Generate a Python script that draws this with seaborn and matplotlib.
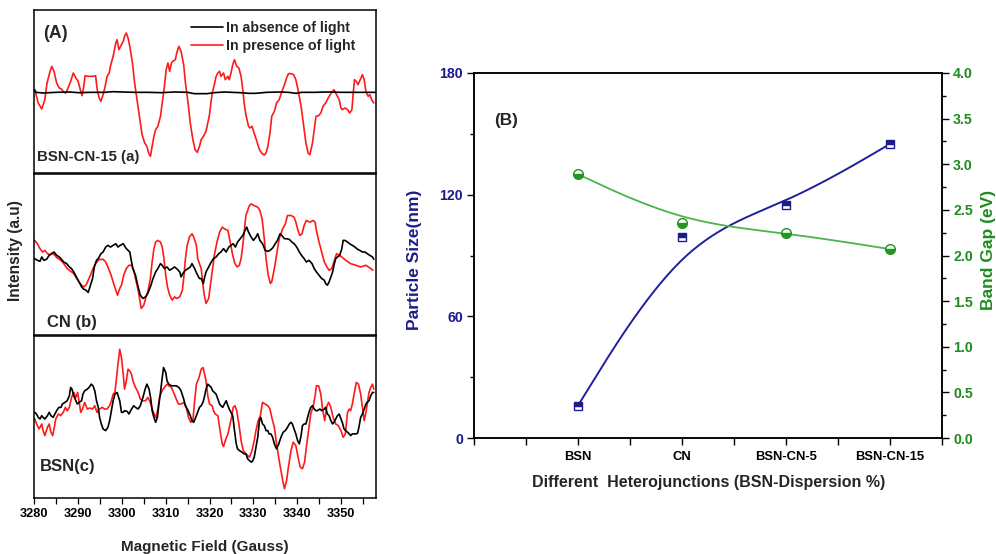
import numpy as np
import matplotlib
matplotlib.use("Agg")
import matplotlib.pyplot as plt
from matplotlib.lines import Line2D
from matplotlib.ticker import MultipleLocator, FormatStrFormatter
import seaborn as sns

# ---------------- Panel (A): EPR spectra ----------------
# (a) BSN-CN-15
a_light_field = [
    3280.1, 3280.9, 3281.7, 3282.4, 3282.9, 3283.6, 3284.0, 3284.5, 3285.1, 3285.7,
    3286.2, 3286.7, 3287.2, 3287.7, 3288.3, 3288.9, 3289.5, 3290.0, 3290.5, 3290.9,
    3291.3, 3291.6, 3292.1, 3292.7, 3293.4, 3294.0, 3294.3, 3294.8, 3295.2, 3295.7,
    3296.1, 3296.6, 3297.1, 3297.4, 3298.0, 3298.6, 3298.9, 3299.3, 3299.7, 3300.3,
    3300.6, 3301.0, 3301.4, 3301.8, 3302.4, 3302.9, 3303.4, 3304.0, 3304.6, 3305.2,
    3305.7, 3306.1, 3306.5, 3306.9, 3307.3, 3307.7, 3308.2, 3308.8, 3309.2, 3309.7,
    3310.1, 3310.5, 3310.9, 3311.3, 3311.6, 3312.2, 3312.5, 3313.0, 3313.5, 3314.1,
    3314.5, 3315.1, 3315.6, 3316.2, 3316.7, 3317.2, 3317.7, 3318.1, 3318.6, 3319.2,
    3320.0, 3320.4, 3320.7, 3321.1, 3321.5, 3321.9, 3322.3, 3322.6, 3323.2, 3323.6,
    3324.2, 3324.5, 3324.9, 3325.3, 3325.7, 3326.2, 3326.7, 3327.2, 3327.6, 3327.9,
    3328.3, 3328.9, 3329.2, 3329.7, 3330.2, 3330.8, 3331.4, 3332.0, 3332.5, 3332.9,
    3333.3, 3333.8, 3334.2, 3334.8, 3335.3, 3335.9, 3336.4, 3337.1, 3337.6, 3338.0,
    3338.6, 3339.2, 3339.7, 3340.2, 3340.9, 3341.4, 3342.0, 3342.5, 3342.9, 3343.5,
    3343.9, 3344.3, 3344.9, 3345.4, 3345.9, 3346.5, 3347.3, 3347.9, 3348.4, 3349.0,
    3349.6, 3350.0, 3350.3, 3350.9, 3351.5, 3352.0, 3352.5, 3352.8, 3353.1, 3353.5,
    3353.9, 3354.4, 3354.9, 3355.3, 3355.7, 3356.2, 3356.6, 3357.0, 3357.5]
a_light_int = [
    8, -32, -50, -22, 28, 63, 78, 63, 28, 13,
    10, 0, -2, 13, 33, 58, 43, 33, 8, -10,
    18, 50, 48, 48, 48, 50, 13, -17, -27, -7,
    13, 48, 58, 80, 108, 148, 158, 128, 138, 153,
    168, 178, 163, 138, 88, 28, -17, -72, -127, -152,
    -162, -182, -192, -162, -132, -112, -102, -72, -32, 18,
    68, 88, 63, 88, 93, 98, 118, 138, 123, 83,
    28, -32, -92, -142, -172, -180, -162, -142, -132, -117,
    -67, -22, 3, 23, 48, 58, 63, 48, 58, 38,
    48, 38, 58, 83, 98, 78, 73, 48, 8, -32,
    -67, -102, -107, -102, -122, -147, -172, -184, -188, -182,
    -162, -122, -72, -57, -32, -22, -2, 23, 43, 56,
    56, 53, 38, 8, -42, -92, -152, -182, -187, -152,
    -112, -72, -70, -62, -42, -32, -12, 0, 8, -7,
    -22, -47, -52, -47, -52, -62, -52, -2, 38, 33,
    23, 38, 53, 38, 3, -12, -7, -22, -32]
a_dark_field = [
    3280.0, 3280.4, 3282.0, 3285.0, 3288.0, 3290.0, 3293.0, 3296.0, 3298.0, 3300.0,
    3303.0, 3306.0, 3309.0, 3312.0, 3315.0, 3316.5, 3318.0, 3319.5, 3321.0, 3323.5,
    3325.0, 3327.0, 3329.0, 3330.5, 3333.0, 3336.0, 3338.0, 3339.8, 3341.0, 3344.0,
    3347.0, 3350.0, 3353.0, 3356.0, 3358.0]
a_dark_int = [
    8, 0, -2, 0, 1, -1, 0, 0, 2, 1,
    0, 0, -1, 1, 0, -4, -4, -4, -1, 1,
    0, -1, -3, -3, 0, 1, 0, -3, 0, 0,
    1, 0, 0, 0, 0]

# (b) CN
b_light_field = [
    3280.1, 3280.7, 3281.3, 3281.9, 3282.4, 3283.0, 3283.6, 3284.2, 3284.7, 3285.2,
    3285.8, 3286.4, 3287.0, 3287.5, 3288.0, 3288.5, 3289.0, 3289.6, 3290.2, 3290.8,
    3291.3, 3291.8, 3292.3, 3292.8, 3293.4, 3294.0, 3294.6, 3295.1, 3295.7, 3296.3,
    3296.8, 3297.4, 3298.0, 3298.6, 3299.0, 3299.5, 3299.9, 3300.4, 3301.0, 3301.6,
    3302.2, 3302.7, 3303.1, 3303.7, 3304.1, 3304.4, 3305.0, 3305.4, 3305.9, 3306.5,
    3306.9, 3307.3, 3307.7, 3308.2, 3308.8, 3309.2, 3309.6, 3310.0, 3310.4, 3310.9,
    3311.5, 3312.0, 3312.5, 3313.2, 3313.8, 3314.1, 3314.5, 3314.9, 3315.4, 3316.0,
    3316.4, 3317.0, 3317.3, 3318.1, 3318.5, 3318.8, 3319.2, 3319.8, 3320.1, 3320.6,
    3321.1, 3321.7, 3322.3, 3322.9, 3323.4, 3324.2, 3324.5, 3324.9, 3325.3, 3325.8,
    3326.3, 3326.8, 3327.2, 3327.6, 3328.0, 3328.3, 3329.1, 3329.5, 3330.2, 3331.0,
    3331.5, 3332.0, 3332.5, 3332.9, 3333.4, 3333.9, 3334.2, 3334.8, 3335.3, 3335.9,
    3336.7, 3337.3, 3337.8, 3338.6, 3339.3, 3339.7, 3340.2, 3340.6, 3341.1, 3341.6,
    3342.1, 3342.9, 3343.7, 3344.1, 3344.4, 3345.0, 3345.6, 3346.2, 3346.8, 3347.3,
    3347.9, 3348.4, 3349.0, 3349.6, 3350.2, 3351.1, 3352.2, 3353.4, 3354.5, 3355.7,
    3356.8, 3357.3]
b_light_int = [
    65, 55, 40, 30, 35, 25, 22, 25, 20, 12,
    8, 0, -10, -20, -25, -30, -35, -48, -60, -70,
    -75, -70, -55, -40, -20, -5, 5, 8, 8, 0,
    -15, -35, -60, -85, -100, -80, -70, -40, -20, -10,
    -10, -25, -50, -85, -115, -140, -130, -110, -90, -50,
    0, 40, 60, 65, 60, 45, 10, -40, -75, -100,
    -115, -105, -110, -105, -85, -50, 10, 50, 75, 85,
    75, 50, 10, -20, -70, -100, -125, -110, -80, -30,
    20, 60, 90, 105, 100, 95, 75, 50, 20, -5,
    -15, -10, 10, 50, 100, 140, 170, 175, 170, 165,
    155, 130, 70, 10, -40, -65, -60, -20, 20, 70,
    100, 115, 140, 140, 135, 120, 95, 80, 85, 110,
    125, 120, 125, 120, 95, 60, 30, 0, -15, -25,
    -20, 0, 25, 20, 15, 5, -5, -10, -15, -10,
    -20, -25]
b_dark_field = [
    3280.1, 3280.7, 3281.3, 3281.7, 3282.2, 3282.8, 3283.4, 3283.9, 3284.5, 3285.1,
    3285.7, 3286.2, 3286.7, 3287.4, 3288.0, 3288.5, 3289.0, 3289.6, 3290.2, 3290.8,
    3291.3, 3291.8, 3292.3, 3292.7, 3293.3, 3293.7, 3294.2, 3294.7, 3295.2, 3295.7,
    3296.3, 3296.8, 3297.4, 3298.0, 3298.6, 3299.1, 3299.6, 3300.3, 3300.9, 3301.4,
    3301.8, 3302.2, 3302.5, 3303.1, 3303.7, 3304.2, 3304.8, 3305.4, 3305.9, 3306.5,
    3307.1, 3307.7, 3308.2, 3308.8, 3309.2, 3309.7, 3310.3, 3310.9, 3311.5, 3312.0,
    3312.5, 3313.2, 3313.5, 3313.9, 3314.5, 3315.1, 3315.6, 3316.0, 3316.6, 3317.1,
    3317.7, 3318.1, 3318.6, 3318.8, 3319.2, 3319.8, 3320.4, 3320.9, 3321.5, 3322.1,
    3322.6, 3323.2, 3323.8, 3324.4, 3324.9, 3325.4, 3325.9, 3326.4, 3327.0, 3327.6,
    3328.1, 3328.5, 3328.9, 3329.5, 3330.0, 3330.6, 3331.0, 3331.5, 3332.1, 3332.7,
    3333.3, 3333.8, 3334.4, 3335.0, 3335.5, 3336.1, 3336.5, 3337.1, 3337.6, 3338.2,
    3338.8, 3339.3, 3339.9, 3340.5, 3341.0, 3341.6, 3342.1, 3342.7, 3343.4, 3343.9,
    3344.4, 3345.0, 3345.6, 3346.2, 3346.5, 3346.9, 3347.3, 3347.7, 3348.1, 3348.4,
    3348.8, 3349.2, 3349.7, 3350.2, 3350.5, 3350.9, 3351.5, 3352.0, 3352.6, 3353.2,
    3353.8, 3354.3, 3354.9, 3355.5, 3356.0, 3356.6, 3357.2, 3357.5]
b_dark_int = [
    10, 5, 2, 15, 5, 8, 20, 25, 30, 20,
    15, 8, 0, -5, -15, -20, -30, -45, -60, -75,
    -82, -85, -92, -75, -50, -15, 5, 12, 25, 30,
    45, 50, 45, 50, 55, 45, 50, 55, 42, 35,
    30, 0, -20, -40, -75, -100, -110, -105, -95, -75,
    -50, -30, -20, -5, -10, -20, -15, -25, -20, -15,
    -20, -30, -45, -35, -25, -20, -15, -5, -20, -35,
    -50, -50, -65, -50, -30, -15, 0, 10, 15, 25,
    30, 40, 30, 45, 50, 55, 45, 60, 70, 80,
    95, 105, 90, 75, 65, 75, 85, 65, 55, 35,
    32, 35, 42, 55, 65, 85, 80, 70, 70, 68,
    60, 55, 45, 30, 20, 10, 0, 5, -5, -20,
    -30, -40, -50, -55, -65, -70, -60, -45, -30, -10,
    10, 15, 20, 40, 65, 65, 60, 55, 50, 45,
    38, 35, 30, 30, 25, 20, 15, 8]

# (c) BSN
c_light_field = [
    3280.1, 3280.7, 3281.1, 3281.7, 3282.0, 3282.4, 3283.0, 3283.4, 3283.8, 3284.2,
    3284.5, 3284.9, 3285.5, 3286.0, 3286.6, 3287.1, 3287.5, 3288.0, 3288.5, 3289.0,
    3289.5, 3289.9, 3290.2, 3290.6, 3291.0, 3291.5, 3292.1, 3292.7, 3293.3, 3293.8,
    3294.3, 3294.9, 3295.5, 3296.1, 3296.6, 3297.2, 3297.6, 3298.0, 3298.4, 3298.7,
    3299.1, 3299.5, 3299.9, 3300.3, 3300.6, 3301.0, 3301.4, 3301.8, 3302.2, 3302.5,
    3303.1, 3303.7, 3304.2, 3304.8, 3305.4, 3305.9, 3306.5, 3306.9, 3307.5, 3307.8,
    3308.2, 3308.6, 3309.0, 3309.4, 3309.7, 3310.3, 3310.7, 3311.3, 3311.8, 3312.4,
    3312.9, 3313.5, 3314.1, 3314.7, 3315.2, 3315.7, 3316.2, 3316.6, 3317.0, 3317.6,
    3318.1, 3318.5, 3318.8, 3319.2, 3319.6, 3320.0, 3320.6, 3320.9, 3321.3, 3321.9,
    3322.4, 3322.9, 3323.2, 3323.6, 3324.2, 3324.7, 3325.1, 3325.4, 3325.8, 3326.2,
    3326.7, 3327.2, 3327.7, 3328.3, 3329.1, 3329.7, 3330.2, 3330.6, 3331.1, 3331.6,
    3332.1, 3332.7, 3333.3, 3333.8, 3334.2, 3334.8, 3335.3, 3335.9, 3336.3, 3336.7,
    3337.1, 3337.6, 3338.0, 3338.6, 3339.1, 3339.7, 3340.2, 3340.7, 3341.2, 3341.7,
    3342.1, 3342.6, 3343.1, 3343.7, 3344.1, 3344.4, 3344.9, 3345.4, 3345.8, 3346.3,
    3346.8, 3347.2, 3347.7, 3348.2, 3348.8, 3349.4, 3350.0, 3350.5, 3351.0, 3351.5,
    3351.9, 3352.2, 3352.6, 3353.0, 3353.5, 3354.0, 3354.5, 3354.9, 3355.3, 3355.7,
    3356.0, 3356.4, 3356.8, 3357.2, 3357.5]
c_light_int = [
    -15, -35, -45, -30, -50, -65, -40, -30, -55, -65,
    -45, -15, 0, -5, 5, 20, 10, 20, 50, 65,
    50, 65, 40, 5, 15, 35, 15, 18, 15, 25,
    5, 15, 20, 15, 15, 25, 40, 60, 65, 100,
    150, 195, 170, 120, 75, 100, 135, 130, 120, 100,
    80, 65, 45, 40, 40, 50, 35, 15, -5, -10,
    15, 50, 65, 75, 80, 90, 85, 80, 65, 45,
    30, 30, 35, 20, -10, -25, -20, 40, 90, 110,
    135, 140, 125, 100, 55, 30, 25, 10, 0, -5,
    -50, -90, -98, -80, -60, -30, -5, 20, 25, 10,
    -30, -80, -110, -120, -130, -110, -80, -50, -20, -5,
    35, 30, 25, 15, -10, -40, -90, -140, -170, -200,
    -225, -200, -160, -110, -85, -95, -130, -160, -165, -145,
    -100, -50, 0, 25, 55, 85, 85, 60, 15, -20,
    25, 35, 20, -10, -30, -35, -50, -70, -60, 5,
    15, 10, 30, 60, 95, 90, 60, 20, -20, 5,
    30, 65, 80, 90, 75]
c_dark_field = [
    3280.1, 3280.5, 3280.9, 3281.3, 3281.7, 3282.0, 3282.4, 3283.0, 3283.4, 3283.8,
    3284.3, 3284.7, 3285.1, 3285.6, 3286.1, 3286.4, 3287.0, 3287.5, 3288.0, 3288.3,
    3288.6, 3289.0, 3289.5, 3289.8, 3290.2, 3290.8, 3291.1, 3291.5, 3292.1, 3292.5,
    3293.0, 3293.4, 3293.8, 3294.2, 3294.6, 3294.9, 3295.3, 3295.7, 3296.3, 3296.8,
    3297.2, 3297.6, 3298.0, 3298.4, 3298.9, 3299.5, 3299.9, 3300.3, 3300.6, 3301.2,
    3301.6, 3302.2, 3302.7, 3303.1, 3303.7, 3304.2, 3304.8, 3305.3, 3305.7, 3306.2,
    3306.6, 3306.9, 3307.3, 3307.7, 3308.1, 3308.4, 3308.8, 3309.2, 3309.5, 3310.0,
    3310.3, 3310.7, 3311.3, 3311.8, 3312.4, 3313.0, 3313.5, 3314.1, 3314.5, 3315.1,
    3315.6, 3316.0, 3316.4, 3317.0, 3317.7, 3318.1, 3318.5, 3318.8, 3319.2, 3319.6,
    3320.0, 3320.4, 3320.7, 3321.1, 3321.5, 3321.9, 3322.3, 3322.6, 3323.0, 3323.4,
    3323.8, 3324.2, 3324.5, 3324.9, 3325.3, 3325.7, 3326.1, 3326.4, 3326.8, 3327.4,
    3327.9, 3328.3, 3328.7, 3329.1, 3329.5, 3329.8, 3330.2, 3330.6, 3331.0, 3331.4,
    3331.7, 3332.1, 3332.5, 3332.9, 3333.3, 3333.6, 3334.0, 3334.4, 3334.8, 3335.3,
    3335.8, 3336.3, 3336.8, 3337.3, 3337.8, 3338.2, 3338.6, 3338.9, 3339.3, 3339.7,
    3340.1, 3340.5, 3340.9, 3341.2, 3341.6, 3342.0, 3342.4, 3342.7, 3343.1, 3343.5,
    3343.9, 3344.3, 3344.6, 3345.2, 3345.6, 3346.2, 3346.5, 3346.9, 3347.3, 3347.7,
    3348.1, 3348.4, 3348.8, 3349.2, 3349.6, 3350.0, 3350.3, 3350.7, 3351.1, 3351.5,
    3351.9, 3352.2, 3352.6, 3353.0, 3353.4, 3353.8, 3354.1, 3354.5, 3354.9, 3355.3,
    3355.7, 3356.0, 3356.4, 3356.8, 3357.2, 3357.5]
c_dark_int = [
    5, 0, -10, -15, -5, -10, -15, -5, 5, -5,
    -10, 0, 10, 20, 20, 30, 35, 40, 55, 80,
    75, 55, 40, 30, 35, 40, 60, 70, 75, 80,
    90, 85, 70, 40, 20, -10, -30, -45, -50, -40,
    -20, 10, 40, 60, 65, 40, 5, 5, 10, 8,
    0, 15, 25, 20, 15, 25, 50, 75, 90, 75,
    45, 10, -10, -25, -10, 25, 65, 110, 140, 125,
    100, 90, 85, 85, 85, 80, 70, 45, 25, 10,
    -5, -20, -25, -5, 20, 25, 35, 50, 75, 90,
    85, 80, 70, 65, 60, 45, 30, 25, 20, 30,
    40, 25, 15, 5, -5, -50, -90, -105, -110, -115,
    -120, -120, -135, -140, -145, -142, -130, -100, -70, -20,
    -10, -30, -35, -50, -50, -60, -60, -70, -90, -105,
    -90, -70, -55, -50, -40, -30, -25, -30, -45, -60,
    -80, -90, -65, -35, -30, -30, -10, 5, 20, 25,
    15, 10, 10, 15, 10, 15, 20, 0, -5, -20,
    -30, -25, -15, -5, 0, -15, -25, -45, -50, -55,
    -60, -65, -60, -60, -60, -58, -40, -10, 0, 15,
    30, 35, 40, 55, 65, 65]

field_ticks = [3280, 3290, 3300, 3310, 3320, 3330, 3340, 3350]
legend_labels = ["In absence of light", "In presence of light"]
panel_tags = ["BSN-CN-15 (a)", "CN (b)", "BSN(c)"]

# ---------------- Panel (B) ----------------
categories = ["BSN", "CN", "BSN-CN-5", "BSN-CN-15"]
particle_size = [16, 99, 115, 145]
band_gap = [2.89, 2.36, 2.25, 2.07]

NAVY = "#1c1c8c"
NAVY_LINE = "#20209a"
GREEN = "#1f8c1f"
GREEN_LINE = "#4db34d"
GREEN_MK = "#239623"


def bspline(xs, ys, n=50):
    """Clamped uniform cubic B-spline using the data points as control points."""
    px = np.r_[xs[0], xs[0], xs, xs[-1], xs[-1]].astype(float)
    py = np.r_[ys[0], ys[0], ys, ys[-1], ys[-1]].astype(float)
    t = np.linspace(0, 1, n)
    b0 = (1 - t) ** 3 / 6
    b1 = (3 * t ** 3 - 6 * t ** 2 + 4) / 6
    b2 = (-3 * t ** 3 + 3 * t ** 2 + 3 * t + 1) / 6
    b3 = t ** 3 / 6
    ox, oy = [], []
    for i in range(len(px) - 3):
        ox.append(b0 * px[i] + b1 * px[i + 1] + b2 * px[i + 2] + b3 * px[i + 3])
        oy.append(b0 * py[i] + b1 * py[i + 1] + b2 * py[i + 2] + b3 * py[i + 3])
    return np.concatenate(ox), np.concatenate(oy)


sns.set_theme(style="ticks")
plt.rcParams["font.family"] = ["Liberation Sans", "DejaVu Sans"]
plt.rcParams["axes.edgecolor"] = "black"
plt.rcParams["xtick.color"] = "black"
plt.rcParams["ytick.color"] = "black"

W, H = 996, 554
fig = plt.figure(figsize=(W / 100, H / 100), dpi=100)


def fx(px):
    return px / W


def fy(py):
    return 1 - py / H


left_x0, left_x1 = 34.3, 376
panels = [
    (10, 173, (-242, 247), a_dark_field, a_dark_int, a_light_field, a_light_int),
    (174, 335, (-220, 265), b_dark_field, b_dark_int, b_light_field, b_light_int),
    (336, 498, (-253, 235), c_dark_field, c_dark_int, c_light_field, c_light_int),
]
axes_left = []
for (top, bot, ylim, dfx, dfy, lfx, lfy) in panels:
    ax = fig.add_axes([fx(left_x0), fy(bot), fx(left_x1 - left_x0), (bot - top) / H])
    sns.lineplot(x=lfx, y=lfy, ax=ax, color="#ff1a1a", linewidth=1.2,
                 sort=False, estimator=None, errorbar=None)
    sns.lineplot(x=dfx, y=dfy, ax=ax, color="black", linewidth=1.2,
                 sort=False, estimator=None, errorbar=None)
    ax.set_xlim(3280, 3358)
    ax.set_ylim(*ylim)
    ax.set_yticks([])
    ax.set_xlabel("")
    ax.set_ylabel("")
    for s in ax.spines.values():
        s.set_visible(True)
        s.set_linewidth(1.1)
        s.set_color("black")
    axes_left.append(ax)

for ax in axes_left[:2]:
    ax.set_xticks([])
ax3 = axes_left[2]
ax3.set_xticks(field_ticks)
ax3.xaxis.set_minor_locator(MultipleLocator(5))
ax3.tick_params(axis="x", which="both", direction="out", length=4, width=0.9,
                labelsize=9.2, pad=3)
for lab in ax3.get_xticklabels():
    lab.set_fontweight("bold")

handles = [Line2D([], [], color="black", lw=1.2), Line2D([], [], color="#ff1a1a", lw=1.2)]
axes_left[0].legend(handles, legend_labels, loc="upper left",
                    bbox_to_anchor=(fx(191), fy(21)), bbox_transform=fig.transFigure,
                    frameon=False, prop={"size": 10.2, "weight": "bold"},
                    handlelength=2.25, handletextpad=0.2, borderpad=0,
                    borderaxespad=0, labelspacing=0.28)

fig.text(fx(55), fy(33), "(A)", fontsize=12.8, fontweight="bold", ha="center", va="center")
fig.text(fx(37), fy(157), panel_tags[0], fontsize=10.8, fontweight="bold", ha="left", va="center")
fig.text(fx(47), fy(322), panel_tags[1], fontsize=12, fontweight="bold", ha="left", va="center")
fig.text(fx(40), fy(467), panel_tags[2], fontsize=12, fontweight="bold", ha="left", va="center")
fig.text(fx(16), fy(251), "Intensity (a.u)", fontsize=11.2, fontweight="bold",
         rotation=90, ha="center", va="center")
fig.text(fx(205), fy(547), "Magnetic Field (Gauss)", fontsize=11, fontweight="bold",
         ha="center", va="center")

# ---------------- right panel ----------------
axR = fig.add_axes([fx(474), fy(438), fx(942 - 474), (438 - 73) / H])
axB = axR.twinx()
pos = np.arange(1, len(categories) + 1)

sx, sy = bspline(pos, np.array(particle_size))
sns.lineplot(x=sx, y=sy, ax=axR, color=NAVY_LINE, linewidth=1.4,
             sort=False, estimator=None, errorbar=None)
axR.plot(pos, particle_size, ls="none", marker="s", ms=5.8, mfc=NAVY,
         mfcalt="white", fillstyle="top", mec=NAVY, mew=1.0, zorder=5)

gx, gy = bspline(pos, np.array(band_gap))
sns.lineplot(x=gx, y=gy, ax=axB, color=GREEN_LINE, linewidth=1.3,
             sort=False, estimator=None, errorbar=None)
axB.plot(pos, band_gap, ls="none", marker="o", ms=7, mfc=GREEN_MK,
         mfcalt="white", fillstyle="bottom", mec=GREEN_MK, mew=1.0, zorder=5)

axR.set_xlim(0, 4.5)
axR.set_ylim(0, 180)
axB.set_ylim(0, 4)
axR.set_xticks(pos)
axR.set_xticklabels(categories)
axR.xaxis.set_minor_locator(MultipleLocator(0.5))
axR.set_yticks([0, 60, 120, 180])
axR.yaxis.set_minor_locator(MultipleLocator(30))
axB.yaxis.set_major_locator(MultipleLocator(0.5))
axB.yaxis.set_minor_locator(MultipleLocator(0.25))
axB.yaxis.set_major_formatter(FormatStrFormatter("%.1f"))
for a in (axR, axB):
    a.set_xlabel("")
    a.set_ylabel("")
    for s in a.spines.values():
        s.set_visible(True)
        s.set_linewidth(1.1)
        s.set_color("black")

axR.tick_params(axis="x", which="major", direction="out", length=5, width=1.0,
                labelsize=9.4, pad=4)
axR.tick_params(axis="x", which="minor", direction="out", length=5, width=1.0)
axR.tick_params(axis="y", which="major", direction="out", length=5, width=1.0,
                labelsize=10.2, labelcolor=NAVY, pad=3)
axR.tick_params(axis="y", which="minor", direction="out", length=3, width=1.0)
axB.tick_params(axis="y", which="major", direction="out", length=5, width=1.0,
                labelsize=10.2, labelcolor=GREEN, pad=3)
axB.tick_params(axis="y", which="minor", direction="out", length=3, width=1.0)
for lab in axR.get_xticklabels() + axR.get_yticklabels() + axB.get_yticklabels():
    lab.set_fontweight("bold")

fig.text(fx(506), fy(120), "(B)", fontsize=12.3, fontweight="bold", ha="center", va="center")
fig.text(fx(414), fy(260), "Particle Size(nm)", fontsize=12.5, fontweight="bold",
         color=NAVY, rotation=90, ha="center", va="center")
fig.text(fx(988), fy(250), "Band Gap (eV)", fontsize=12.5, fontweight="bold",
         color=GREEN, rotation=90, ha="center", va="center")
fig.text(fx(709), fy(482), "Different  Heterojunctions (BSN-Dispersion %)", fontsize=11.5,
         fontweight="bold", ha="center", va="center")

fig.savefig("out.png", dpi=100, facecolor="white")
